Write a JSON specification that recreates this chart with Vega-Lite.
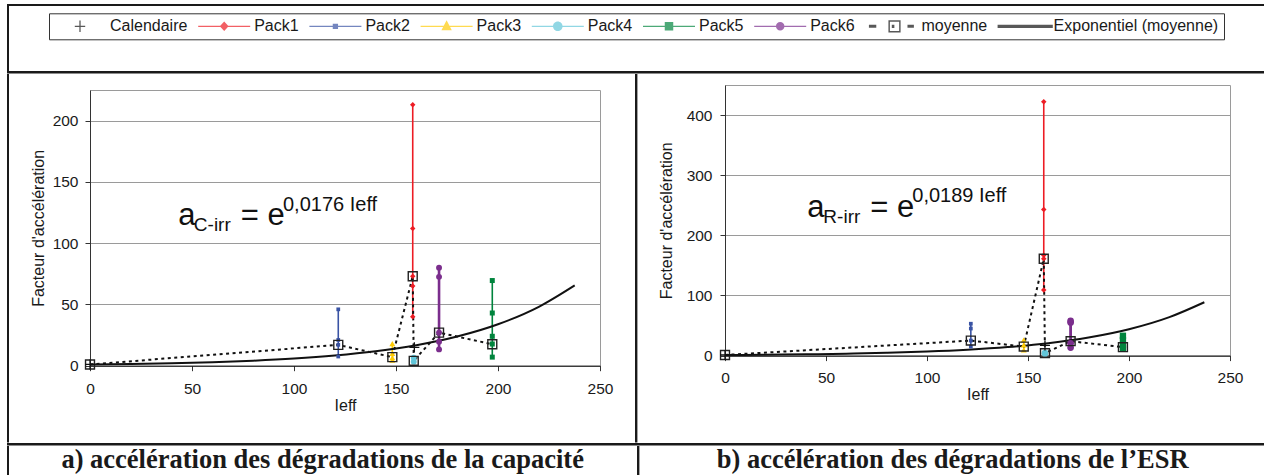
{
  "$schema": "https://vega.github.io/schema/vega-lite/v6.json",
  "padding": {"left": 7, "top": 4, "right": 0, "bottom": 0},
  "background": "white",
  "spacing": 0,
  "config": {
    "font": "Liberation Sans",
    "view": {"stroke": null},
    "axis": {
      "labelFont": "Liberation Sans", "titleFont": "Liberation Sans",
      "labelFontSize": 15.5, "titleFontSize": 16, "titleFontWeight": "normal",
      "labelColor": "#1a1a1a", "titleColor": "#1a1a1a",
      "domainColor": "#333333", "tickColor": "#333333",
      "gridColor": "#9a9a9a", "gridWidth": 1.2, "tickSize": 5,
      "labelFlush": false, "labelOverlap": false
    }
  },
  "datasets": {
    "capa": [
      {"serie": "Pack1", "ieff": 158.2, "val": 213},
      {"serie": "Pack1", "ieff": 158.2, "val": 112},
      {"serie": "Pack1", "ieff": 158.2, "val": 73},
      {"serie": "Pack1", "ieff": 158.2, "val": 65},
      {"serie": "Pack1", "ieff": 158.2, "val": 40},
      {"serie": "Pack2", "ieff": 121.7, "val": 46},
      {"serie": "Pack2", "ieff": 121.7, "val": 21},
      {"serie": "Pack2", "ieff": 121.7, "val": 17},
      {"serie": "Pack2", "ieff": 121.7, "val": 7.5},
      {"serie": "Pack3", "ieff": 148.2, "val": 18},
      {"serie": "Pack3", "ieff": 148.2, "val": 10},
      {"serie": "Pack3", "ieff": 148.2, "val": 6.5},
      {"serie": "Pack3", "ieff": 148.2, "val": 4.6},
      {"serie": "Pack4", "ieff": 158.7, "val": 6.5},
      {"serie": "Pack4", "ieff": 158.7, "val": 3.3},
      {"serie": "Pack5", "ieff": 197.2, "val": 69.5},
      {"serie": "Pack5", "ieff": 197.2, "val": 43},
      {"serie": "Pack5", "ieff": 197.2, "val": 24},
      {"serie": "Pack5", "ieff": 197.2, "val": 17.7},
      {"serie": "Pack5", "ieff": 197.2, "val": 7},
      {"serie": "Pack6", "ieff": 171.1, "val": 80},
      {"serie": "Pack6", "ieff": 171.1, "val": 72.5},
      {"serie": "Pack6", "ieff": 171.1, "val": 27},
      {"serie": "Pack6", "ieff": 171.1, "val": 19.6},
      {"serie": "Pack6", "ieff": 171.1, "val": 13.3},
      {"serie": "moyenne", "ieff": 0, "val": 1},
      {"serie": "moyenne", "ieff": 121.7, "val": 17},
      {"serie": "moyenne", "ieff": 148.2, "val": 7},
      {"serie": "moyenne", "ieff": 158.2, "val": 73},
      {"serie": "moyenne", "ieff": 158.7, "val": 4},
      {"serie": "moyenne", "ieff": 171.1, "val": 27},
      {"serie": "moyenne", "ieff": 197.2, "val": 17.5},
      {"serie": "Calendaire", "ieff": 0, "val": 1},
      {"serie": "Calendaire", "ieff": 159, "val": 15},
      {"serie": "Exponentiel (moyenne)", "ieff": 0, "val": 1},
      {"serie": "Exponentiel (moyenne)", "ieff": 20, "val": 1.42},
      {"serie": "Exponentiel (moyenne)", "ieff": 40, "val": 2.02},
      {"serie": "Exponentiel (moyenne)", "ieff": 60, "val": 2.87},
      {"serie": "Exponentiel (moyenne)", "ieff": 80, "val": 4.09},
      {"serie": "Exponentiel (moyenne)", "ieff": 100, "val": 5.81},
      {"serie": "Exponentiel (moyenne)", "ieff": 120, "val": 8.27},
      {"serie": "Exponentiel (moyenne)", "ieff": 140, "val": 11.75},
      {"serie": "Exponentiel (moyenne)", "ieff": 160, "val": 16.71},
      {"serie": "Exponentiel (moyenne)", "ieff": 180, "val": 23.76},
      {"serie": "Exponentiel (moyenne)", "ieff": 200, "val": 33.78},
      {"serie": "Exponentiel (moyenne)", "ieff": 220, "val": 48.04},
      {"serie": "Exponentiel (moyenne)", "ieff": 237.6, "val": 65.5}
    ],
    "esr": [
      {"serie": "Pack1", "ieff": 157.8, "val": 422},
      {"serie": "Pack1", "ieff": 157.8, "val": 243},
      {"serie": "Pack1", "ieff": 157.8, "val": 167},
      {"serie": "Pack1", "ieff": 157.8, "val": 161},
      {"serie": "Pack1", "ieff": 157.8, "val": 109},
      {"serie": "Pack2", "ieff": 121.7, "val": 53},
      {"serie": "Pack2", "ieff": 121.7, "val": 45},
      {"serie": "Pack2", "ieff": 121.7, "val": 25},
      {"serie": "Pack2", "ieff": 121.7, "val": 15},
      {"serie": "Pack3", "ieff": 147.9, "val": 26},
      {"serie": "Pack3", "ieff": 147.9, "val": 17.7},
      {"serie": "Pack3", "ieff": 147.9, "val": 9.4},
      {"serie": "Pack4", "ieff": 158.4, "val": 4},
      {"serie": "Pack5", "ieff": 197, "val": 33},
      {"serie": "Pack5", "ieff": 197, "val": 26},
      {"serie": "Pack5", "ieff": 197, "val": 17.7},
      {"serie": "Pack5", "ieff": 197, "val": 12},
      {"serie": "Pack6", "ieff": 171.1, "val": 57.6},
      {"serie": "Pack6", "ieff": 171.1, "val": 55},
      {"serie": "Pack6", "ieff": 171.1, "val": 20.5},
      {"serie": "Pack6", "ieff": 171.1, "val": 13.3},
      {"serie": "moyenne", "ieff": 0, "val": 1},
      {"serie": "moyenne", "ieff": 121.7, "val": 25},
      {"serie": "moyenne", "ieff": 147.9, "val": 15},
      {"serie": "moyenne", "ieff": 157.8, "val": 161},
      {"serie": "moyenne", "ieff": 158.4, "val": 4},
      {"serie": "moyenne", "ieff": 171.1, "val": 24},
      {"serie": "moyenne", "ieff": 197, "val": 14},
      {"serie": "Calendaire", "ieff": 0, "val": 1},
      {"serie": "Calendaire", "ieff": 158.4, "val": 17},
      {"serie": "Exponentiel (moyenne)", "ieff": 0, "val": 1},
      {"serie": "Exponentiel (moyenne)", "ieff": 20, "val": 1.46},
      {"serie": "Exponentiel (moyenne)", "ieff": 40, "val": 2.13},
      {"serie": "Exponentiel (moyenne)", "ieff": 60, "val": 3.11},
      {"serie": "Exponentiel (moyenne)", "ieff": 80, "val": 4.54},
      {"serie": "Exponentiel (moyenne)", "ieff": 100, "val": 6.62},
      {"serie": "Exponentiel (moyenne)", "ieff": 120, "val": 9.66},
      {"serie": "Exponentiel (moyenne)", "ieff": 140, "val": 14.1},
      {"serie": "Exponentiel (moyenne)", "ieff": 160, "val": 20.57},
      {"serie": "Exponentiel (moyenne)", "ieff": 180, "val": 30.03},
      {"serie": "Exponentiel (moyenne)", "ieff": 200, "val": 43.82},
      {"serie": "Exponentiel (moyenne)", "ieff": 220, "val": 63.94},
      {"serie": "Exponentiel (moyenne)", "ieff": 237.3, "val": 88.7}
    ]
  },
  "vconcat": [
    {"width": 1257, "height": 2, "data": {"values": [{}]}, "mark": {"type": "point", "opacity": 0, "size": 0}, "encoding": {}, "view": {"fill": "#1a1a1a", "stroke": null}},
    {"width": 2, "height": 65, "data": {"values": [{}]}, "mark": {"type": "point", "opacity": 0, "size": 0}, "encoding": {}, "view": {"fill": "#1a1a1a", "stroke": null}},
    {"width": 1257, "height": 2.5, "data": {"values": [{}]}, "mark": {"type": "point", "opacity": 0, "size": 0}, "encoding": {}, "view": {"fill": "#1a1a1a", "stroke": null}},
    {
      "spacing": 0,
      "hconcat": [
        {"width": 2, "height": 368.5, "data": {"values": [{}]}, "mark": {"type": "point", "opacity": 0, "size": 0}, "encoding": {}, "view": {"fill": "#1a1a1a", "stroke": null}},
        {"width": 19.3, "height": 1, "data": {"values": [{}]}, "mark": {"type": "point", "opacity": 0, "size": 0}, "encoding": {}},
        {
          "spacing": 0,
          "vconcat": [
            {"width": 510, "height": 14.8, "data": {"values": [{}]}, "mark": {"type": "point", "opacity": 0, "size": 0}, "encoding": {}},
            {
              "width": 510,
              "height": 275.7,
              "view": {"stroke": "#9a9a9a", "strokeWidth": 1},
              "data": {"name": "capa"},
              "encoding": {
                "x": {"field": "ieff", "type": "quantitative", "scale": {"domain": [0, 250], "nice": false, "zero": false},
                      "axis": {"title": "Ieff", "values": [0, 50, 100, 150, 200, 250], "grid": false, "labelPadding": 11, "titlePadding": 0, "domainColor": "#111111"}},
                "y": {"field": "val", "type": "quantitative", "scale": {"domain": [0, 225], "nice": false},
                      "axis": {"title": "Facteur d'accélération", "values": [0, 50, 100, 150, 200], "grid": true, "labelPadding": 7, "titlePadding": 6}}
              },
              "layer": [
                {"transform": [{"filter": "indexof(datum.serie, 'Pack') === 0"}],
                 "mark": {"type": "line", "strokeWidth": 1.6},
                 "encoding": {"stroke": {"field": "serie", "type": "nominal", "legend": null,
                   "scale": {"domain": ["Pack1", "Pack2", "Pack3", "Pack4", "Pack5", "Pack6"], "range": ["#ed1c24", "#3953a4", "#ffcb05", "#62c6d9", "#00843d", "#7b2e8d"]}},
                   "order": {"field": "val", "type": "quantitative"}}},
                {"transform": [{"filter": "datum.serie === 'Pack6'"}],
                 "mark": {"type": "line", "strokeWidth": 2.6, "color": "#7b2e8d"},
                 "encoding": {"order": {"field": "val", "type": "quantitative"}}},
                {"transform": [{"filter": "datum.serie === 'moyenne'"}],
                 "mark": {"type": "line", "color": "#111111", "strokeWidth": 2, "strokeDash": [3, 3.5]},
                 "encoding": {}},
                {"transform": [{"filter": "datum.serie === 'Exponentiel (moyenne)'"}],
                 "mark": {"type": "line", "color": "#111111", "strokeWidth": 2, "interpolate": "monotone"},
                 "encoding": {}},
                {"transform": [{"filter": "datum.serie === 'Pack1'"}],
                 "mark": {"type": "point", "shape": "diamond", "filled": true, "size": 30, "opacity": 1},
                 "encoding": {"fill": {"field": "serie", "type": "nominal", "legend": null,
                   "scale": {"domain": ["Pack1", "Pack2", "Pack3", "Pack4", "Pack5", "Pack6"], "range": ["#ed1c24", "#3953a4", "#ffcb05", "#62c6d9", "#00843d", "#7b2e8d"]}}}},
                {"transform": [{"filter": "datum.serie === 'Pack2'"}],
                 "mark": {"type": "point", "shape": "square", "filled": true, "size": 14, "opacity": 1},
                 "encoding": {"fill": {"field": "serie", "type": "nominal", "legend": null,
                   "scale": {"domain": ["Pack1", "Pack2", "Pack3", "Pack4", "Pack5", "Pack6"], "range": ["#ed1c24", "#3953a4", "#ffcb05", "#62c6d9", "#00843d", "#7b2e8d"]}}}},
                {"transform": [{"filter": "datum.serie === 'Pack3'"}],
                 "mark": {"type": "point", "shape": "triangle-up", "filled": true, "size": 35, "opacity": 1},
                 "encoding": {"fill": {"field": "serie", "type": "nominal", "legend": null,
                   "scale": {"domain": ["Pack1", "Pack2", "Pack3", "Pack4", "Pack5", "Pack6"], "range": ["#ed1c24", "#3953a4", "#ffcb05", "#62c6d9", "#00843d", "#7b2e8d"]}}}},
                {"transform": [{"filter": "datum.serie === 'Pack4' || datum.serie === 'Pack6'"}],
                 "mark": {"type": "point", "shape": "circle", "filled": true, "size": 35, "opacity": 1},
                 "encoding": {"fill": {"field": "serie", "type": "nominal", "legend": null,
                   "scale": {"domain": ["Pack1", "Pack2", "Pack3", "Pack4", "Pack5", "Pack6"], "range": ["#ed1c24", "#3953a4", "#ffcb05", "#62c6d9", "#00843d", "#7b2e8d"]}}}},
                {"transform": [{"filter": "datum.serie === 'Pack5'"}],
                 "mark": {"type": "point", "shape": "square", "filled": true, "size": 25, "opacity": 1},
                 "encoding": {"fill": {"field": "serie", "type": "nominal", "legend": null,
                   "scale": {"domain": ["Pack1", "Pack2", "Pack3", "Pack4", "Pack5", "Pack6"], "range": ["#ed1c24", "#3953a4", "#ffcb05", "#62c6d9", "#00843d", "#7b2e8d"]}}}},
                {"transform": [{"filter": "datum.serie === 'moyenne'"}],
                 "mark": {"type": "point", "shape": "square", "filled": false, "size": 80, "stroke": "#222222", "strokeWidth": 1.4, "opacity": 1},
                 "encoding": {}},
                {"transform": [{"filter": "datum.serie === 'Calendaire'"}],
                 "mark": {"type": "point", "shape": "M-1,0H1M0,-1V1", "filled": false, "size": 100, "stroke": "#111111", "strokeWidth": 1.3, "opacity": 1},
                 "encoding": {}},
                {"data": {"values": [{"t": "a", "ieff": 43.3, "val": 114.7}, {"t": "= e", "ieff": 73.9, "val": 114.7}]},
                 "mark": {"type": "text", "align": "left", "baseline": "alphabetic", "fontSize": 31, "color": "#111111"},
                 "encoding": {"text": {"field": "t", "type": "nominal"}}},
                {"data": {"values": [{"t": "C-irr", "ieff": 50.9, "val": 110.0}]},
                 "mark": {"type": "text", "align": "left", "baseline": "alphabetic", "fontSize": 19, "color": "#111111"},
                 "encoding": {"text": {"field": "t", "type": "nominal"}}},
                {"data": {"values": [{"t": "0,0176 Ieff", "ieff": 94.6, "val": 126.1}]},
                 "mark": {"type": "text", "align": "left", "baseline": "alphabetic", "fontSize": 20, "color": "#111111"},
                 "encoding": {"text": {"field": "t", "type": "nominal"}}},
                {"transform": [{"filter": "false"}],
                 "mark": {"type": "point", "filled": true},
                 "encoding": {
                   "color": {"field": "serie", "type": "nominal",
                     "scale": {"domain": ["Calendaire", "Pack1", "Pack2", "Pack3", "Pack4", "Pack5", "Pack6", "moyenne", "Exponentiel (moyenne)"],
                               "range": ["#111111", "#ed1c24", "#3953a4", "#ffcb05", "#62c6d9", "#00843d", "#7b2e8d", "#111111", "#111111"]},
                     "legend": {"title": null, "orient": "none", "legendX": 42, "legendY": 9.3, "direction": "horizontal", "columns": 9,
                       "symbolSize": 256, "symbolStrokeWidth": 0, "labelFontSize": 16, "labelFont": "Liberation Sans", "labelColor": "#1a1a1a",
                       "labelOffset": 40, "columnPadding": 10.2, "padding": 5, "strokeColor": "#333333", "fillColor": "#ffffff", "labelLimit": 400}},
                   "shape": {"field": "serie", "type": "nominal",
                     "scale": {"domain": ["Calendaire", "Pack1", "Pack2", "Pack3", "Pack4", "Pack5", "Pack6", "moyenne", "Exponentiel (moyenne)"],
                               "range": [
                                 "M1.6,-0.08H2.9V0.08H1.6Z M2.17,-0.72H2.33V0.72H2.17Z",
                                 "M-1,-0.08H5.5V0.08H-1Z M2.25,-0.6L2.8,0L2.25,0.6L1.7,0Z",
                                 "M-1,-0.08H5.5V0.08H-1Z M1.92,-0.33H2.58V0.33H1.92Z",
                                 "M-1,-0.08H5.5V0.08H-1Z M2.25,-0.75L2.9,0.5H1.6Z",
                                 "M-1,-0.08H5.5V0.08H-1Z M2.85,0A0.6,0.6,0,1,1,1.65,0A0.6,0.6,0,1,1,2.85,0Z",
                                 "M-1,-0.08H5.5V0.08H-1Z M1.72,-0.53H2.78V0.53H1.72Z",
                                 "M-1,-0.08H5.5V0.08H-1Z M2.78,0A0.53,0.53,0,1,1,1.72,0A0.53,0.53,0,1,1,2.78,0Z",
                                 "M-0.56,-0.19H0.36V0.19H-0.56Z M1.88,-0.76H3.4V0.76H1.88Z M2.06,-0.58V0.58H3.22V-0.58Z M2.3,-0.2H2.62V0.2H2.3Z M4.26,-0.19H5.06V0.19H4.26Z",
                                 "M-1,-0.2H5.9V0.2H-1Z"
                               ]},
                     "legend": {"title": null, "orient": "none", "legendX": 42, "legendY": 9.3, "direction": "horizontal", "columns": 9,
                       "symbolSize": 256, "symbolStrokeWidth": 0, "labelFontSize": 16, "labelFont": "Liberation Sans", "labelColor": "#1a1a1a",
                       "labelOffset": 40, "columnPadding": 10.2, "padding": 5, "strokeColor": "#333333", "fillColor": "#ffffff", "labelLimit": 400}}
                 }}
              ]
            }
          ]
        },
        {"width": 20.3, "height": 1, "data": {"values": [{}]}, "mark": {"type": "point", "opacity": 0, "size": 0}, "encoding": {}},
        {"width": 2.4, "height": 368.5, "data": {"values": [{}]}, "mark": {"type": "point", "opacity": 0, "size": 0}, "encoding": {}, "view": {"fill": "#1a1a1a", "stroke": null}},
        {"width": 18.8, "height": 1, "data": {"values": [{}]}, "mark": {"type": "point", "opacity": 0, "size": 0}, "encoding": {}},
        {
          "spacing": 0,
          "vconcat": [
            {"width": 505, "height": 9.2, "data": {"values": [{}]}, "mark": {"type": "point", "opacity": 0, "size": 0}, "encoding": {}},
            {
              "width": 505,
              "height": 270.6,
              "view": {"stroke": "#9a9a9a", "strokeWidth": 1},
              "data": {"name": "esr"},
              "encoding": {
                "x": {"field": "ieff", "type": "quantitative", "scale": {"domain": [0, 250], "nice": false, "zero": false},
                      "axis": {"title": "Ieff", "values": [0, 50, 100, 150, 200, 250], "grid": false, "labelPadding": 9.5, "titlePadding": 0.5, "domainColor": "#111111"}},
                "y": {"field": "val", "type": "quantitative", "scale": {"domain": [0, 450], "nice": false},
                      "axis": {"title": "Facteur d'accélération", "values": [0, 100, 200, 300, 400], "grid": true, "labelPadding": 8, "titlePadding": 12}}
              },
              "layer": [
                {"transform": [{"filter": "indexof(datum.serie, 'Pack') === 0"}],
                 "mark": {"type": "line", "strokeWidth": 1.6},
                 "encoding": {"stroke": {"field": "serie", "type": "nominal", "legend": null,
                   "scale": {"domain": ["Pack1", "Pack2", "Pack3", "Pack4", "Pack5", "Pack6"], "range": ["#ed1c24", "#3953a4", "#ffcb05", "#62c6d9", "#00843d", "#7b2e8d"]}},
                   "order": {"field": "val", "type": "quantitative"}}},
                {"transform": [{"filter": "datum.serie === 'Pack6'"}],
                 "mark": {"type": "line", "strokeWidth": 2.8, "color": "#7b2e8d"},
                 "encoding": {"order": {"field": "val", "type": "quantitative"}}},
                {"transform": [{"filter": "datum.serie === 'moyenne'"}],
                 "mark": {"type": "line", "color": "#111111", "strokeWidth": 2, "strokeDash": [3, 3.5]},
                 "encoding": {}},
                {"transform": [{"filter": "datum.serie === 'Exponentiel (moyenne)'"}],
                 "mark": {"type": "line", "color": "#111111", "strokeWidth": 2, "interpolate": "monotone"},
                 "encoding": {}},
                {"transform": [{"filter": "datum.serie === 'Pack1'"}],
                 "mark": {"type": "point", "shape": "diamond", "filled": true, "size": 30, "opacity": 1},
                 "encoding": {"fill": {"field": "serie", "type": "nominal", "legend": null,
                   "scale": {"domain": ["Pack1", "Pack2", "Pack3", "Pack4", "Pack5", "Pack6"], "range": ["#ed1c24", "#3953a4", "#ffcb05", "#62c6d9", "#00843d", "#7b2e8d"]}}}},
                {"transform": [{"filter": "datum.serie === 'Pack2'"}],
                 "mark": {"type": "point", "shape": "square", "filled": true, "size": 14, "opacity": 1},
                 "encoding": {"fill": {"field": "serie", "type": "nominal", "legend": null,
                   "scale": {"domain": ["Pack1", "Pack2", "Pack3", "Pack4", "Pack5", "Pack6"], "range": ["#ed1c24", "#3953a4", "#ffcb05", "#62c6d9", "#00843d", "#7b2e8d"]}}}},
                {"transform": [{"filter": "datum.serie === 'Pack3'"}],
                 "mark": {"type": "point", "shape": "triangle-up", "filled": true, "size": 35, "opacity": 1},
                 "encoding": {"fill": {"field": "serie", "type": "nominal", "legend": null,
                   "scale": {"domain": ["Pack1", "Pack2", "Pack3", "Pack4", "Pack5", "Pack6"], "range": ["#ed1c24", "#3953a4", "#ffcb05", "#62c6d9", "#00843d", "#7b2e8d"]}}}},
                {"transform": [{"filter": "datum.serie === 'Pack4' || datum.serie === 'Pack6'"}],
                 "mark": {"type": "point", "shape": "circle", "filled": true, "size": 45, "opacity": 1},
                 "encoding": {"fill": {"field": "serie", "type": "nominal", "legend": null,
                   "scale": {"domain": ["Pack1", "Pack2", "Pack3", "Pack4", "Pack5", "Pack6"], "range": ["#ed1c24", "#3953a4", "#ffcb05", "#62c6d9", "#00843d", "#7b2e8d"]}}}},
                {"transform": [{"filter": "datum.serie === 'Pack5'"}],
                 "mark": {"type": "point", "shape": "square", "filled": true, "size": 40, "opacity": 1},
                 "encoding": {"fill": {"field": "serie", "type": "nominal", "legend": null,
                   "scale": {"domain": ["Pack1", "Pack2", "Pack3", "Pack4", "Pack5", "Pack6"], "range": ["#ed1c24", "#3953a4", "#ffcb05", "#62c6d9", "#00843d", "#7b2e8d"]}}}},
                {"transform": [{"filter": "datum.serie === 'moyenne'"}],
                 "mark": {"type": "point", "shape": "square", "filled": false, "size": 80, "stroke": "#222222", "strokeWidth": 1.4, "opacity": 1},
                 "encoding": {}},
                {"transform": [{"filter": "datum.serie === 'Calendaire'"}],
                 "mark": {"type": "point", "shape": "M-1,0H1M0,-1V1", "filled": false, "size": 100, "stroke": "#111111", "strokeWidth": 1.3, "opacity": 1},
                 "encoding": {}},
                {"data": {"values": [{"t": "a", "ieff": 40.7, "val": 229.7}, {"t": "= e", "ieff": 71.9, "val": 229.7}]},
                 "mark": {"type": "text", "align": "left", "baseline": "alphabetic", "fontSize": 31, "color": "#111111"},
                 "encoding": {"text": {"field": "t", "type": "nominal"}}},
                {"data": {"values": [{"t": "R-irr", "ieff": 48.7, "val": 220.3}]},
                 "mark": {"type": "text", "align": "left", "baseline": "alphabetic", "fontSize": 19, "color": "#111111"},
                 "encoding": {"text": {"field": "t", "type": "nominal"}}},
                {"data": {"values": [{"t": "0,0189 Ieff", "ieff": 92.7, "val": 254.7}]},
                 "mark": {"type": "text", "align": "left", "baseline": "alphabetic", "fontSize": 20, "color": "#111111"},
                 "encoding": {"text": {"field": "t", "type": "nominal"}}}
              ]
            }
          ]
        }
      ]
    },
    {"width": 1257, "height": 2.5, "data": {"values": [{}]}, "mark": {"type": "point", "opacity": 0, "size": 0}, "encoding": {}, "view": {"fill": "#1a1a1a", "stroke": null}},
    {
      "spacing": 0,
      "hconcat": [
        {"width": 2, "height": 29, "data": {"values": [{}]}, "mark": {"type": "point", "opacity": 0, "size": 0}, "encoding": {}, "view": {"fill": "#1a1a1a", "stroke": null}},
        {"width": 627.3, "height": 29,
         "data": {"values": [{"c": "a) accélération des dégradations de la capacité"}]},
         "mark": {"type": "text", "font": "Liberation Serif", "fontSize": 26.5, "fontWeight": "bold", "color": "#1a1a1a", "baseline": "alphabetic", "dy": 7},
         "encoding": {"text": {"field": "c", "type": "nominal"}}},
        {"width": 2.4, "height": 29, "data": {"values": [{}]}, "mark": {"type": "point", "opacity": 0, "size": 0}, "encoding": {}, "view": {"fill": "#1a1a1a", "stroke": null}},
        {"width": 625.3, "height": 29,
         "data": {"values": [{"c": "b) accélération des dégradations de l’ESR"}]},
         "mark": {"type": "text", "font": "Liberation Serif", "fontSize": 26.5, "fontWeight": "bold", "color": "#1a1a1a", "baseline": "alphabetic", "dy": 7},
         "encoding": {"text": {"field": "c", "type": "nominal"}}}
      ]
    },
    {"width": 1257, "height": 2, "data": {"values": [{}]}, "mark": {"type": "point", "opacity": 0, "size": 0}, "encoding": {}, "view": {"fill": "#1a1a1a", "stroke": null}}
  ]
}
